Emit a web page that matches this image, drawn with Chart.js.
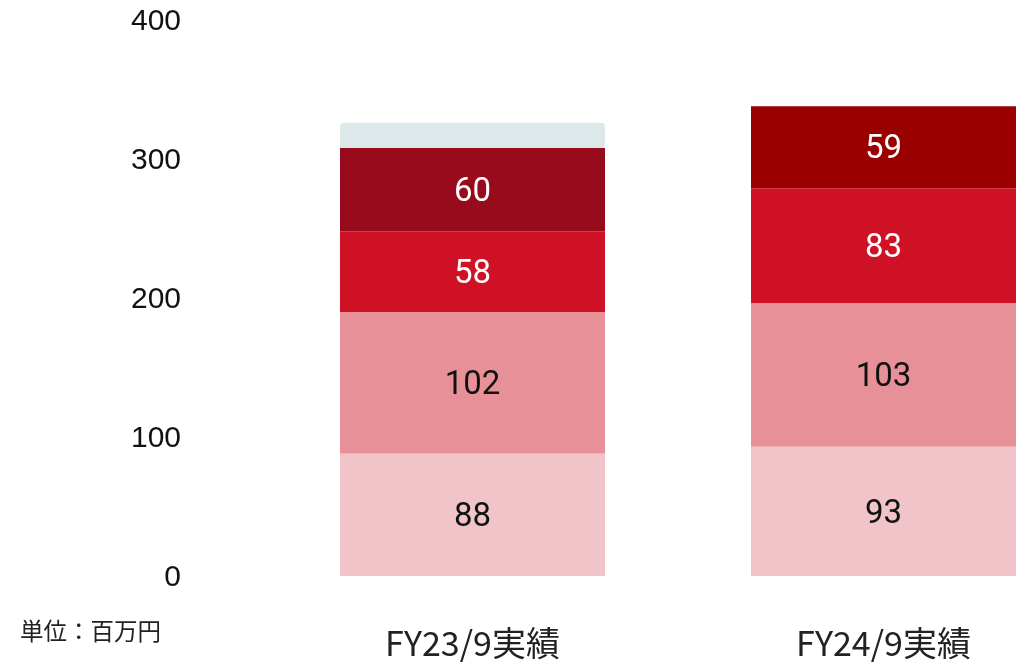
<!DOCTYPE html>
<html>
<head>
<meta charset="utf-8">
<script src="https://cdn.jsdelivr.net/npm/chart.js@4"></script>
<style>
  html, body { margin: 0; padding: 0; overflow: hidden; background: #fff; }
  #wrap { position: relative; width: 1019px; height: 664px; overflow: hidden; }
  #unit { position: absolute; left: 20px; top: 613px; font: 23.5px "Noto Sans CJK JP", sans-serif; color: #222; }
</style>
</head>
<body>
<div id="wrap">
  <canvas id="salesChart" width="1100" height="664"></canvas>
  <div id="unit">単位：百万円</div>
</div>
<script>
// categories and stacked values (millions of yen), bottom to top
var labels = ['FY23/9実績', 'FY24/9実績'];
var seg1 = [88, 93];
var seg2 = [102, 103];
var seg3 = [58, 83];
var seg4 = [60, 59];
var seg5 = [18, null];
var yTicks = [0, 100, 200, 300, 400];

// draw the numbers in the middle of each segment
var segmentLabels = {
    id: 'segmentLabels',
    afterDatasetsDraw: function(chart) {
        var ctx = chart.ctx;
        ctx.save();
        ctx.font = '33px Roboto';
        ctx.textAlign = 'center';
        ctx.textBaseline = 'middle';
        chart.data.datasets.forEach(function(ds, di) {
            if (!ds.showValue) return;
            var meta = chart.getDatasetMeta(di);
            meta.data.forEach(function(bar, i) {
                var v = ds.data[i];
                if (v == null) return;
                var p = bar.getProps(['x', 'y', 'base'], true);
                ctx.fillStyle = ds.valueColor;
                ctx.fillText(v, p.x, (p.y + p.base) / 2 + 3);
            });
        });
        ctx.restore();
    }
};

var ctx = document.getElementById('salesChart').getContext('2d');
var chart = new Chart(ctx, {
    type: 'bar',
    data: {
        labels: labels,
        datasets: [
            { data: seg1, backgroundColor: '#F0C4C8', showValue: true, valueColor: '#111' },
            { data: seg2, backgroundColor: '#E79098', showValue: true, valueColor: '#111' },
            { data: seg3, backgroundColor: '#CE1125', showValue: true, valueColor: '#fff' },
            { data: seg4, backgroundColor: ['#970B1D', '#9A0000'], showValue: true, valueColor: '#fff' },
            { data: seg5, backgroundColor: '#DDE8EB', borderRadius: { topLeft: 4, topRight: 4 }, showValue: false }
        ]
    },
    plugins: [segmentLabels],
    options: {
        responsive: false,
        animation: false,
        barPercentage: 1,
        categoryPercentage: 265 / 411,
        layout: { padding: { left: 0, right: 11, top: 20, bottom: 0 } },
        plugins: {
            legend: { display: false },
            tooltip: { enabled: false }
        },
        scales: {
            x: {
                stacked: true,
                grid: { display: false, drawTicks: false },
                border: { display: false },
                ticks: { color: '#222', padding: 47, font: { family: 'Noto Sans CJK JP', size: 34 } },
                afterFit: function(scale) { scale.height = 88; }
            },
            y: {
                stacked: true,
                min: 0,
                max: 400,
                afterBuildTicks: function(scale) {
                    scale.ticks = yTicks.map(function(v) { return { value: v }; });
                },
                grid: { display: false, drawTicks: false },
                border: { display: false },
                ticks: { color: '#111', padding: 86, labelOffset: 2, font: { family: 'Liberation Sans', size: 30 } },
                afterFit: function(scale) {
                    scale.width = 267;
                    scale.paddingTop = 0;
                    scale.paddingBottom = 0;
                }
            }
        }
    }
});
</script>
</body>
</html>
